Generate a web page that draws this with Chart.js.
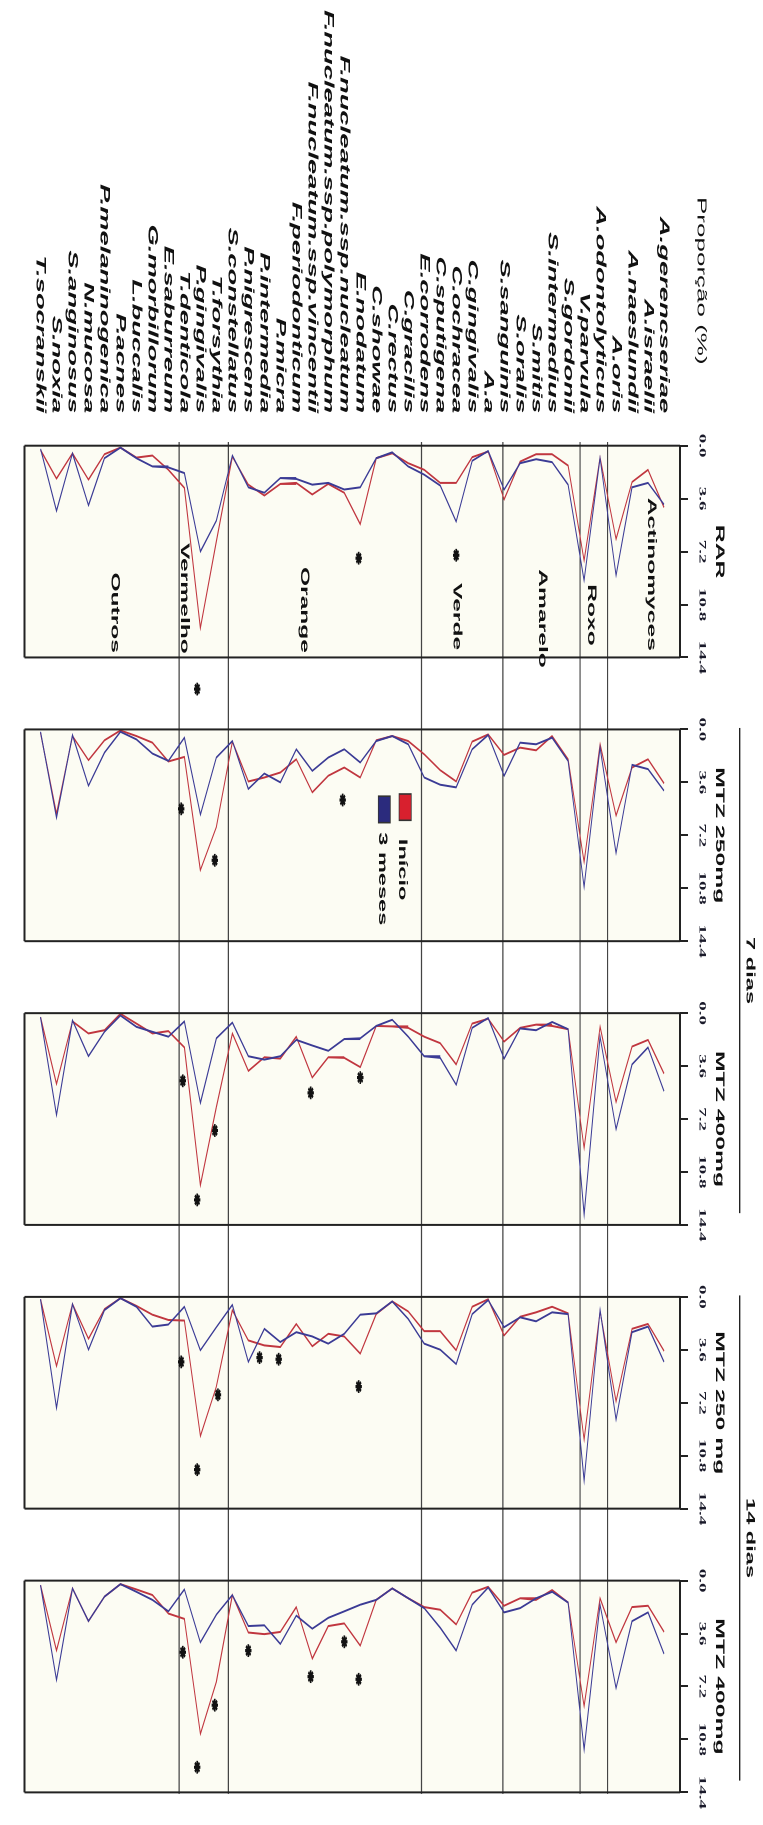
<!DOCTYPE html>
<html>
<head>
<meta charset="utf-8">
<script src="https://cdn.jsdelivr.net/npm/chart.js@4.4.0/dist/chart.umd.min.js"></script>
<style>
  html, body { margin: 0; padding: 0; background: #fff; overflow: hidden; }
  #page { position: relative; width: 763px; height: 1825px; overflow: hidden; }
  /* the figure is drawn landscape, then turned and stretched like the source */
  #wrap {
    position: absolute; left: 0; top: 0; width: 913px; height: 763px;
    transform-origin: 0 0;
    transform: translateX(763px) rotate(90deg) scaleX(2);
  }
</style>
</head>
<body>
<div id="page">
  <div id="wrap"><canvas id="profileChart" width="913" height="763"></canvas></div>
</div>
<script>
const SPECIES = [
  'A.gerencseriae', 'A.israelii', 'A.naeslundii', 'A.oris',
  'A.odontolyticus', 'V.parvula',
  'S.gordonii', 'S.intermedius', 'S.mitis', 'S.oralis', 'S.sanguinis',
  'A.a', 'C.gingivalis', 'C.ochracea', 'C.sputigena', 'E.corrodens',
  'C.gracilis', 'C.rectus', 'C.showae', 'E.nodatum', 'F.nucleatum.ssp.nucleatum',
  'F.nucleatum.ssp.polymorphum', 'F.nucleatum.ssp.vincentii', 'F.periodonticum',
  'P.micra', 'P.intermedia', 'P.nigrescens', 'S.constellatus',
  'T.forsythia', 'P.gingivalis', 'T.denticola',
  'E.saburreum', 'G.morbillorum', 'L.buccalis', 'P.acnes', 'P.melaninogenica',
  'N.mucosa', 'S.anginosus', 'S.noxia', 'T.socranskii'
];

const PANELS = ['RAR', 'MTZ 250mg', 'MTZ 400mg', 'MTZ 250 mg', 'MTZ 400mg'];
const TICK_VALUES = [0, 3.6, 7.2, 10.8, 14.4];
const TICK_LABELS = ['0.0', '3.6', '7.2', '10.8', '14.4'];
const GROUPS = ['Actinomyces', 'Roxo', 'Amarelo', 'Verde', 'Orange', 'Vermelho', 'Outros'];
const DAYS = ['7 dias', '14 dias'];

// Proporção (%) per species, Início (red) and 3 meses (blue)
const RAR_INICIO = [4.2, 1.64, 2.47, 6.35, 0.81, 7.8, 1.35, 0.58, 0.58, 1.08,
  3.65, 0.4, 0.78, 2.53, 2.53, 1.64, 1.19, 0.52, 0.85, 5.34,
  3.2, 2.6, 3.32, 2.53, 2.6, 3.39, 2.65, 0.74, 6.5, 12.4,
  2.87, 1.64, 0.67, 0.81, 0.13, 0.58, 2.31, 0.52, 2.24, 0.29];
const RAR_3MESES = [4.0, 2.53, 2.83, 8.81, 0.85, 9.15, 2.65, 1.12, 0.92, 1.19,
  2.98, 0.36, 1.03, 5.16, 2.71, 1.97, 1.41, 0.45, 0.85, 2.83,
  2.98, 2.53, 2.65, 2.26, 2.2, 3.2, 2.83, 0.67, 5.1, 7.2,
  1.86, 1.48, 1.41, 0.85, 0.13, 0.85, 4.06, 0.52, 4.44, 0.22];

const MTZ250_7D_INICIO = [3.67, 2.03, 2.59, 5.86, 1.01, 9.0, 2.03, 0.45, 1.42, 1.24,
  1.73, 0.34, 0.83, 3.54, 2.77, 1.69, 0.79, 0.45, 0.74, 3.27,
  2.59, 3.15, 4.28, 2.03, 2.93, 3.27, 3.54, 0.83, 6.64, 9.57,
  1.87, 2.18, 0.9, 0.45, 0.07, 0.74, 2.09, 0.45, 5.74, 0.23];
const MTZ250_7D_3MESES = [4.17, 2.7, 2.41, 8.4, 1.24, 10.7, 2.14, 0.56, 1.01, 0.9,
  3.15, 0.38, 1.35, 3.94, 3.76, 3.27, 1.01, 0.45, 0.79, 2.25,
  1.35, 1.91, 2.82, 1.35, 3.6, 3.0, 4.05, 0.79, 1.91, 5.79,
  0.56, 2.14, 1.64, 0.68, 0.16, 1.58, 3.83, 0.38, 6.01, 0.16];

const MTZ400_7D_INICIO = [4.11, 1.82, 2.27, 6.04, 0.93, 9.16, 1.09, 0.87, 0.78, 1.0,
  1.93, 0.38, 0.71, 3.49, 2.04, 1.6, 1.0, 0.9, 0.87, 3.67,
  3.04, 3.0, 4.38, 1.6, 3.09, 3.0, 3.93, 1.38, 6.38, 11.7,
  2.33, 1.22, 1.38, 0.71, 0.04, 1.16, 1.38, 0.56, 4.82, 0.27];
const MTZ400_7D_3MESES = [5.31, 2.33, 3.49, 7.89, 1.6, 13.7, 1.09, 0.6, 1.16, 1.04,
  3.09, 0.33, 1.0, 4.87, 3.04, 2.93, 1.6, 0.45, 0.87, 1.71,
  1.76, 2.56, 2.2, 1.82, 2.93, 3.16, 2.93, 0.64, 1.71, 6.11,
  0.56, 1.6, 1.27, 0.93, 0.16, 1.27, 2.93, 0.49, 6.93, 0.27];

const MTZ250_14D_INICIO = [3.68, 1.84, 2.17, 7.1, 0.99, 9.69, 1.12, 0.67, 1.05, 1.35,
  2.62, 0.16, 0.67, 3.63, 2.33, 2.33, 0.99, 0.31, 1.17, 3.86,
  2.69, 2.51, 3.36, 1.84, 3.41, 3.3, 2.96, 0.9, 6.1, 9.46,
  1.61, 1.57, 1.21, 0.61, 0.09, 0.83, 2.85, 0.49, 4.71, 0.16];
const MTZ250_14D_3MESES = [4.42, 2.02, 2.4, 8.34, 0.9, 12.49, 1.17, 1.05, 1.66, 1.39,
  2.06, 0.22, 1.17, 4.57, 3.59, 3.18, 1.5, 0.31, 1.12, 1.21,
  2.51, 3.18, 2.69, 2.4, 3.07, 2.17, 4.42, 0.54, 2.06, 3.63,
  0.67, 1.88, 2.02, 0.67, 0.09, 0.9, 3.59, 0.49, 7.56, 0.16];

const MTZ400_14D_INICIO = [3.49, 1.71, 1.8, 4.2, 1.2, 8.53, 1.49, 0.64, 1.31, 1.2,
  1.71, 0.42, 0.82, 2.98, 1.98, 1.8, 1.2, 0.53, 1.31, 4.42,
  2.91, 3.09, 5.31, 1.8, 3.49, 3.64, 3.53, 0.98, 6.87, 10.42,
  2.6, 2.24, 0.98, 0.6, 0.24, 1.09, 2.76, 0.53, 4.76, 0.31];
const MTZ400_14D_3MESES = [4.98, 2.16, 2.76, 7.31, 1.64, 11.49, 1.49, 0.76, 1.2, 1.87,
  2.16, 0.47, 1.64, 4.76, 3.2, 1.87, 1.2, 0.53, 1.31, 1.64,
  2.09, 2.53, 3.27, 2.38, 4.31, 3.04, 3.09, 0.98, 2.31, 4.2,
  0.6, 2.09, 1.31, 0.76, 0.24, 1.09, 2.76, 0.53, 6.76, 0.31];

const INICIO = [RAR_INICIO, MTZ250_7D_INICIO, MTZ400_7D_INICIO, MTZ250_14D_INICIO, MTZ400_14D_INICIO];
const TRES_MESES = [RAR_3MESES, MTZ250_7D_3MESES, MTZ400_7D_3MESES, MTZ250_14D_3MESES, MTZ400_14D_3MESES];

// significance marks (*): panel, species position, proportion
const STAR_PANEL = [0, 0, 0, 1, 1, 1, 2, 2, 2, 2, 2, 3, 3, 3, 3, 3, 3, 4, 4, 4, 4, 4, 4, 4];
const STAR_SPECIES = [13.0, 19.1, 29.2, 30.2, 28.1, 20.1, 30.1, 28.1, 29.2, 22.1, 19.0,
  30.2, 27.9, 29.2, 25.3, 24.1, 19.1, 30.1, 28.1, 29.2, 26.0, 22.1, 20.0, 19.1];
const STAR_VALUE = [7.45, 7.65, 16.55, 5.4, 8.9, 4.8, 4.6, 7.98, 12.7, 5.42, 4.38,
  4.42, 6.66, 11.75, 4.13, 4.24, 6.1, 4.87, 8.47, 12.69, 4.76, 6.53, 4.16, 6.71];

// layout
const AXIS_MAX = 14.4;
const PANEL_STEP = 19.295;
const GROUP_LINES = [3.53, 5.25, 10.08, 15.17, 27.25, 30.33];
const GROUP_LABEL_AT = [0.8, 4.53, 7.6, 12.95, 22.5, 30.0, 34.35];
const GROUP_LABEL_END = [13.95, 13.6, 15.1, 13.9, 14.1, 14.15, 14.1];
const RED = '#c0363f';
const BLUE = '#3b3b95';
const SANS = '"Liberation Sans", Arial, sans-serif';

const datasets = [];
TRES_MESES.forEach((vals, p) => {
  datasets.push({
    label: '3 meses',
    data: vals.map((v, i) => ({ x: p * PANEL_STEP + v, y: i })),
    borderColor: BLUE, borderWidth: 1, showLine: true, pointRadius: 0, tension: 0
  });
});
INICIO.forEach((vals, p) => {
  datasets.push({
    label: 'Início',
    data: vals.map((v, i) => ({ x: p * PANEL_STEP + v, y: i })),
    borderColor: RED, borderWidth: 1, showLine: true, pointRadius: 0, tension: 0
  });
});
datasets.push({
  label: '*',
  data: STAR_VALUE.map((v, k) => ({ x: STAR_PANEL[k] * PANEL_STEP + v, y: STAR_SPECIES[k] })),
  showLine: false, pointStyle: 'star', pointRadius: 3.2,
  borderColor: '#111', pointBorderWidth: 1.6, clip: false
});

function hLine(ctx, x0, x1, y) {
  ctx.beginPath(); ctx.moveTo(x0, y); ctx.lineTo(x1, y); ctx.stroke();
}
function vLine(ctx, x, y0, y1) {
  ctx.beginPath(); ctx.moveTo(x, y0); ctx.lineTo(x, y1); ctx.stroke();
}

const panelDecor = {
  id: 'panelDecor',
  beforeDatasetsDraw(chart) {
    const { ctx, chartArea: a, scales: { x, y } } = chart;
    const px = (p, v) => x.getPixelForValue(p * PANEL_STEP + v);
    ctx.save();
    ctx.fillStyle = '#fcfcf3';
    PANELS.forEach((t, p) => {
      ctx.fillRect(px(p, 0), a.top, px(p, AXIS_MAX) - px(p, 0), a.bottom - a.top);
    });
    // group separators run across every panel
    ctx.strokeStyle = '#444';
    ctx.lineWidth = 1.2;
    GROUP_LINES.forEach(g => {
      hLine(ctx, px(0, -0.25), px(4, AXIS_MAX + 0.1), y.getPixelForValue(g));
    });
    ctx.restore();
  },
  afterDatasetsDraw(chart) {
    const { ctx, chartArea: a, scales: { x, y } } = chart;
    const px = (p, v) => x.getPixelForValue(p * PANEL_STEP + v);
    ctx.save();

    // panel frames
    ctx.strokeStyle = '#222';
    PANELS.forEach((t, p) => {
      const x0 = px(p, 0), x1 = px(p, AXIS_MAX);
      ctx.lineWidth = 2;
      hLine(ctx, x0, x1, a.top);
      hLine(ctx, x0, x1, a.bottom);
      ctx.lineWidth = 1;
      vLine(ctx, x0, a.top, a.bottom);
      vLine(ctx, x1, a.top, a.bottom);
    });

    ctx.fillStyle = '#111';
    ctx.textBaseline = 'middle';

    // panel titles
    ctx.textAlign = 'center';
    ctx.font = 'bold 12.4px ' + SANS;
    PANELS.forEach((t, p) => ctx.fillText(t, px(p, AXIS_MAX / 2), a.top - 39.3));

    // 7 dias / 14 dias brackets
    ctx.lineWidth = 1.4;
    ctx.font = 'bold 11.8px ' + SANS;
    DAYS.forEach((d, k) => {
      const x0 = px(1 + 2 * k, -0.1), x1 = px(2 + 2 * k, 13.6);
      hLine(ctx, x0, x1, a.top - 59.7);
      ctx.fillText(d, (x0 + x1) / 2, a.top - 69.7);
    });

    // group names inside the first panel
    ctx.textAlign = 'right';
    ctx.font = 'bold 12.3px ' + SANS;
    GROUPS.forEach((g, k) => {
      ctx.fillText(g, px(0, GROUP_LABEL_END[k]), y.getPixelForValue(GROUP_LABEL_AT[k]));
    });

    // legend in the second panel
    const box = (v0, v1, i0, i1, color) => {
      const bx = px(1, v0), by = y.getPixelForValue(i0);
      const bw = px(1, v1) - bx, bh = y.getPixelForValue(i1) - by;
      ctx.fillStyle = color;
      ctx.fillRect(bx, by, bw, bh);
      ctx.lineWidth = 0.8;
      ctx.strokeStyle = '#333';
      ctx.strokeRect(bx, by, bw, bh);
    };
    box(4.39, 6.18, 15.81, 16.57, '#d8202e');
    box(4.54, 6.34, 17.12, 17.87, '#2b2b7d');
    ctx.fillStyle = '#111';
    ctx.textAlign = 'left';
    ctx.font = 'bold 11.8px ' + SANS;
    ctx.fillText('Início', px(1, 7.44), y.getPixelForValue(16.37));
    ctx.fillText('3 meses', px(1, 6.99), y.getPixelForValue(17.61));

    // axis caption
    ctx.font = '13px ' + SANS;
    ctx.fillText('Proporção (%)', 98.5, a.top - 21.3);
    ctx.restore();
  }
};

const ctx = document.getElementById('profileChart').getContext('2d');
new Chart(ctx, {
  type: 'scatter',
  data: { datasets },
  options: {
    responsive: false,
    animation: false,
    devicePixelRatio: 2,
    layout: { padding: { top: 0, left: 0, right: 9.65, bottom: 2.7 } },
    plugins: { legend: { display: false }, tooltip: { enabled: false } },
    scales: {
      x: {
        type: 'linear',
        position: 'top',
        min: 0,
        max: 4 * PANEL_STEP + AXIS_MAX,
        afterBuildTicks: scale => {
          scale.ticks = [];
          PANELS.forEach((t, p) => TICK_VALUES.forEach(v => scale.ticks.push({ value: p * PANEL_STEP + v })));
        },
        afterFit: scale => { scale.height = 83; },
        grid: { display: true, drawOnChartArea: false, drawTicks: true, tickLength: 8, color: '#222', lineWidth: 1 },
        border: { display: false },
        ticks: {
          autoSkip: false,
          maxRotation: 0,
          padding: 8.5,
          color: '#1a1a2a',
          font: { family: '"Liberation Serif", "Times New Roman", serif', size: 9.5, weight: 'bold' },
          callback: (value, index) => TICK_LABELS[index % TICK_LABELS.length]
        }
      },
      y: {
        type: 'linear',
        position: 'left',
        reverse: true,
        min: -1,
        max: SPECIES.length,
        afterBuildTicks: scale => { scale.ticks = SPECIES.map((s, i) => ({ value: i })); },
        afterFit: scale => { scale.width = 222.85; },
        grid: { display: false, drawTicks: false },
        border: { display: false },
        ticks: {
          autoSkip: false,
          padding: 16.3,
          color: '#111',
          font: { family: SANS, size: 13.7, weight: 'bold', style: 'italic' },
          callback: value => SPECIES[value] || ''
        }
      }
    }
  },
  plugins: [panelDecor]
});
</script>
</body>
</html>
